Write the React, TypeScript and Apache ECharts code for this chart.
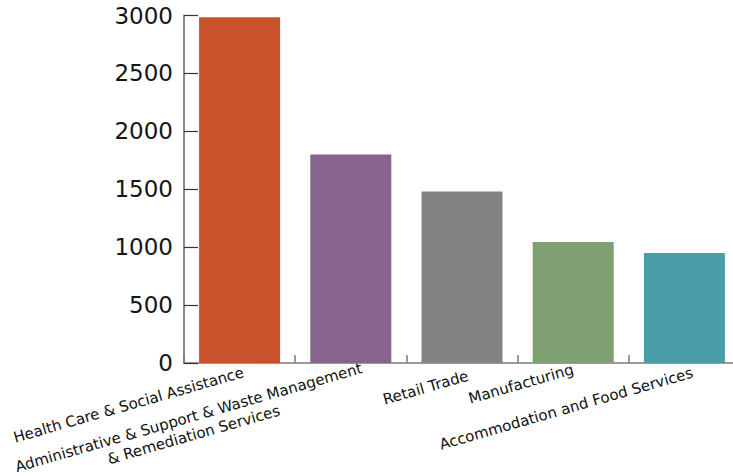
import React, { useEffect, useRef } from "react";
import * as echarts from "echarts";

const categories = [
  "Health Care & Social Assistance",
  "Administrative & Support & Waste Management\n& Remediation Services",
  "Retail Trade",
  "Manufacturing",
  "Accommodation and Food Services",
];
const values = [2985, 1800, 1480, 1045, 950];
const colors = ["#C8522A", "#87648E", "#838482", "#7FA070", "#4A9CA6"];
const yTicks = { min: 0, max: 3000, interval: 500 };

// label nudges (style only): [top, right, bottom, left] padding
const labelPadding = [
  [8, -3, 0, 0],
  [22, -11, 0, 0],
  [16, -4, 0, 0],
  [0, 0, 0, 0],
  [11, -7, 0, 0],
];

export default function App() {
  const ref = useRef<HTMLDivElement>(null);
  useEffect(() => {
    if (!ref.current) return;
    const chart = echarts.init(ref.current, null, { renderer: "svg" });
    chart.setOption({
      animation: false,
      backgroundColor: "#ffffff",
      grid: {
        left: 184,
        top: 15.5,
        height: 347.5,
        width: 556,
        containLabel: false,
        outerBoundsMode: "none",
      },
      xAxis: {
        type: "category",
        data: categories.map((c, i) => ({ value: c, textStyle: { padding: labelPadding[i] } })),
        boundaryGap: true,
        axisLine: { show: true, lineStyle: { color: "#7a7a7a", width: 1.5 } },
        axisTick: { show: true, inside: true, length: 8, lineStyle: { color: "#7a7a7a", width: 1.5 } },
        axisLabel: {
          rotate: 16,
          interval: 0,
          margin: 6,
          color: "#111",
          fontFamily: "DejaVu Sans",
          fontSize: 15,
          formatter: (v: string) =>
            v
              .split("\n")
              .map((l) => "{c|" + l + "}")
              .join("\n"),
          rich: {
            c: { align: "center", fontFamily: "DejaVu Sans", fontSize: 15, color: "#111", lineHeight: 18 },
          },
        },
      },
      yAxis: {
        type: "value",
        min: yTicks.min,
        max: yTicks.max,
        interval: yTicks.interval,
        axisLine: { show: true, lineStyle: { color: "#8a8a8a", width: 2 } },
        axisTick: { show: true, inside: true, length: 14, lineStyle: { color: "#333", width: 1.2 } },
        splitLine: { show: false },
        axisLabel: {
          margin: 11,
          color: "#151515",
          fontFamily: "DejaVu Sans",
          fontSize: 23,
          formatter: (v: number) => String(v),
        },
      },
      series: [
        {
          type: "bar",
          barWidth: 81,
          data: values.map((v, i) => ({ value: v, itemStyle: { color: colors[i] } })),
        },
      ],
    });
    return () => chart.dispose();
  }, []);
  return (
    <div
      ref={ref}
      style={{ position: "fixed", left: 0, top: 0, width: 733, height: 476 }}
    />
  );
}
